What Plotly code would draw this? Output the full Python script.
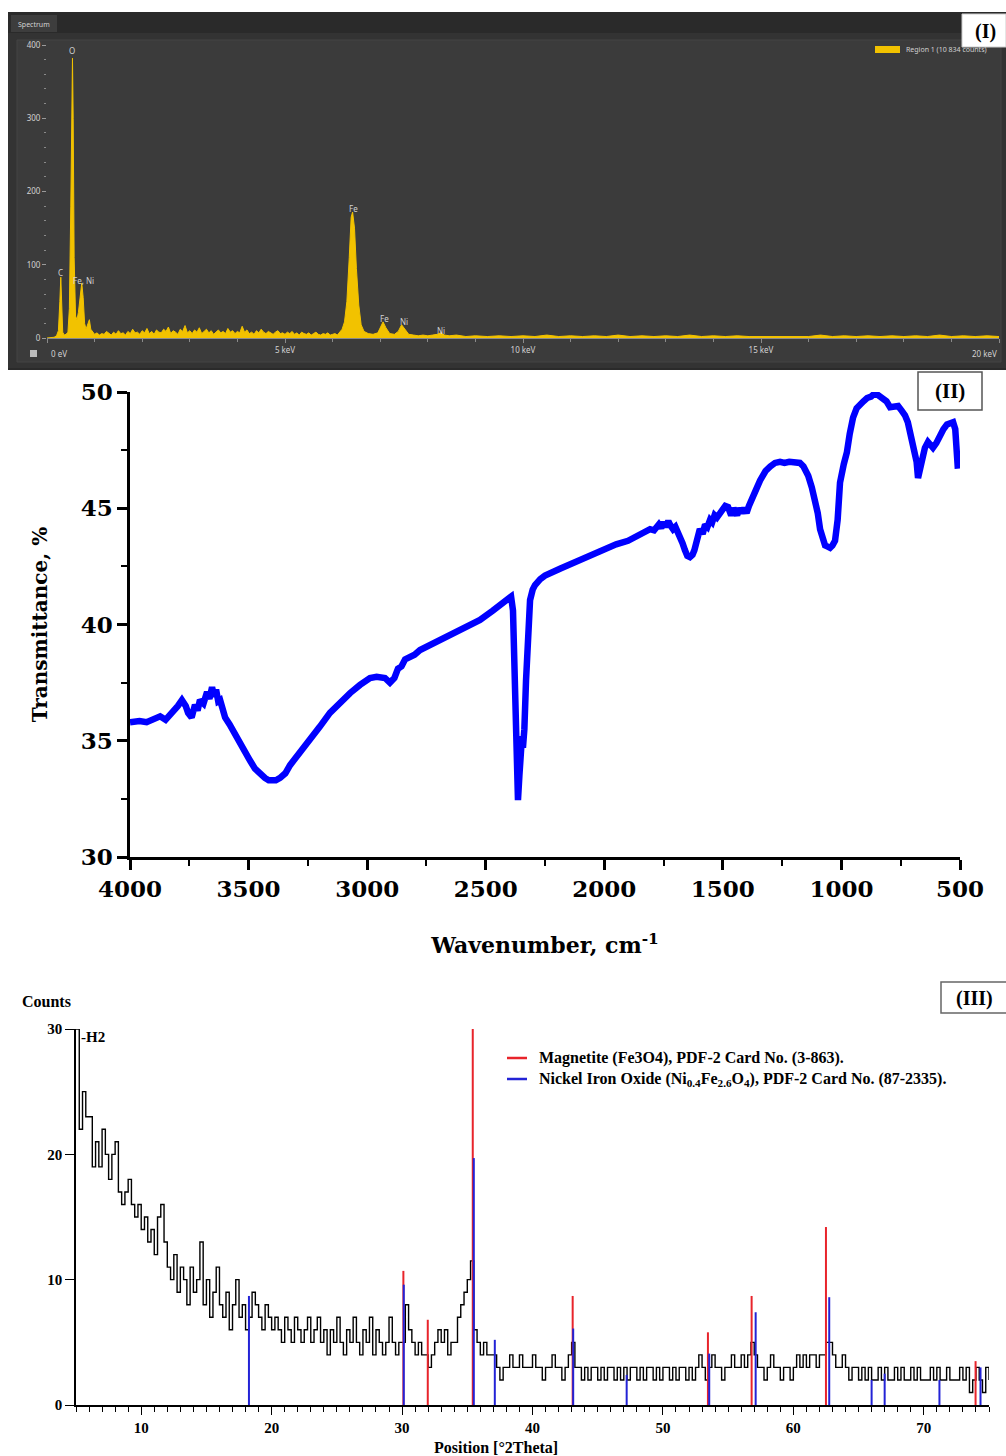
import plotly.graph_objects as go

W, H = 1006, 1456


def px(x):
    return x / W


def py(y):
    return 1 - y / H


# ---------------- Panel I : EDS spectrum ----------------
eds_energy_kev = [
    0.00, 0.10, 0.15, 0.20, 0.24, 0.27, 0.29, 0.31, 0.33, 0.36, 0.40, 0.44, 0.47, 0.50, 0.52, 0.535,
    0.55, 0.57, 0.60, 0.63, 0.66, 0.70, 0.73, 0.76, 0.79, 0.82, 0.86, 0.89, 0.92, 0.96, 1.00, 1.05,
    1.10, 1.15, 1.20, 1.25, 1.3, 1.35, 1.4, 1.45, 1.5, 1.55, 1.6, 1.65, 1.7, 1.75, 1.8, 1.85, 1.9,
    1.95, 2.0, 2.05, 2.1, 2.15, 2.2, 2.25, 2.3, 2.35, 2.4, 2.45, 2.5, 2.55, 2.6, 2.65, 2.7, 2.75,
    2.8, 2.85, 2.9, 2.95, 3.0, 3.05, 3.1, 3.15, 3.2, 3.25, 3.3, 3.35, 3.4, 3.45, 3.5, 3.55, 3.6,
    3.65, 3.7, 3.75, 3.8, 3.85, 3.9, 3.95, 4.0, 4.05, 4.1, 4.15, 4.2, 4.25, 4.3, 4.35, 4.4, 4.45,
    4.5, 4.55, 4.6, 4.65, 4.7, 4.75, 4.8, 4.85, 4.9, 4.95, 5.0, 5.05, 5.1, 5.15, 5.2, 5.25, 5.3,
    5.35, 5.4, 5.45, 5.5, 5.55, 5.6, 5.65, 5.7, 5.75, 5.8, 5.85, 5.9, 5.95, 6.0, 6.05, 6.1, 6.15,
    6.2, 6.25, 6.3, 6.35, 6.39, 6.42, 6.46, 6.5, 6.55, 6.6, 6.66, 6.75, 6.85, 6.95, 7.0, 7.06, 7.12,
    7.2, 7.3, 7.38, 7.45, 7.52, 7.6, 7.7, 7.8, 7.9, 8.0, 8.1, 8.2, 8.27, 8.35, 8.45, 8.6, 8.8, 9.0,
    9.25, 9.5, 9.75, 10.0, 10.25, 10.5, 10.75, 11.0, 11.25, 11.5, 11.75, 12.0, 12.25, 12.5, 12.75,
    13.0, 13.25, 13.5, 13.75, 14.0, 14.25, 14.5, 14.75, 15.0, 15.25, 15.5, 15.75, 16.0, 16.25, 16.5,
    16.75, 17.0, 17.25, 17.5, 17.75, 18.0, 18.25, 18.5, 18.75, 19.0, 19.25, 19.5, 19.75, 20.0,
]
eds_counts = [
    0, 0, 1, 3, 10, 50, 83, 45, 8, 4, 5, 8, 40, 180, 300, 382,
    300, 110, 30, 25, 35, 60, 75, 55, 20, 12, 18, 25, 12, 8, 5, 7,
    4, 6, 5, 9, 6, 4, 8, 5, 10, 6, 7, 4, 9, 6, 12, 7, 8,
    5, 10, 7, 13, 6, 9, 5, 11, 8, 7, 12, 9, 15, 6, 10, 8, 5,
    12, 9, 17, 7, 10, 6, 11, 8, 14, 6, 9, 12, 7, 10, 5, 8, 11,
    7, 9, 6, 13, 8, 10, 6, 9, 7, 16, 8, 11, 6, 8, 5, 10, 7,
    12, 8, 6, 9, 7, 5, 8, 10, 6, 7, 5, 8, 6, 9, 5, 7, 4,
    8, 6, 5, 7, 4, 6, 8, 5, 4, 6, 5, 7, 4, 5, 6, 4, 8,
    12, 22, 50, 110, 165, 172, 150, 95, 45, 18, 9, 6, 5, 7, 14, 22, 14,
    6, 5, 9, 18, 12, 5, 4, 3, 4, 3, 4, 5, 7, 4, 3, 4, 2, 3,
    2, 3, 2, 3, 2, 4, 2, 3, 2, 3, 2, 4, 2, 3, 2,
    3, 2, 4, 2, 3, 2, 3, 2, 2, 3, 2, 3, 2, 4, 2,
    3, 2, 3, 2, 3, 2, 3, 2, 4, 2, 3, 2, 3, 2,
]
eds_peak_labels = ["C", "O", "Fe, Ni", "Fe", "Fe", "Ni", "Ni"]
eds_peak_label_kev = [0.29, 0.53, 0.76, 6.43, 7.08, 7.50, 8.28]
eds_peak_label_counts = [89, 392, 78, 177, 27, 22, 10]
eds_x_tickvals = [0, 5, 10, 15, 20]
eds_x_ticktext = ["0 eV", "5 keV", "10 keV", "15 keV", "20 keV"]
eds_y_tickvals = [0, 100, 200, 300, 400]

# ---------------- Panel II : FTIR ----------------
ftir_wavenumber = [
    4000, 3960, 3930, 3900, 3873, 3850, 3831, 3810, 3798, 3781, 3765, 3755, 3740, 3726, 3715, 3705,
    3690, 3675, 3665, 3654, 3645, 3637, 3628, 3620, 3610, 3599, 3580, 3557, 3536, 3515, 3494, 3473,
    3452, 3431, 3415, 3401, 3385, 3367, 3345, 3325, 3290, 3241, 3200, 3157, 3115, 3072, 3030, 2988,
    2960, 2940, 2925, 2904, 2885, 2870, 2855, 2840, 2800, 2777, 2720, 2651, 2590, 2524, 2470, 2419,
    2400, 2393, 2385, 2375, 2368, 2364, 2358, 2351, 2347, 2343, 2337, 2330, 2322, 2313, 2302, 2292,
    2270, 2250, 2187, 2100, 2018, 1950, 1900, 1849, 1807, 1790, 1770, 1760, 1750, 1740, 1730, 1723,
    1710, 1700, 1690, 1681, 1670, 1660, 1650, 1639, 1628, 1620, 1610, 1597, 1585, 1575, 1565, 1554,
    1545, 1535, 1525, 1512, 1500, 1490, 1478, 1465, 1455, 1449, 1440, 1430, 1420, 1410, 1400, 1390,
    1375, 1360, 1343, 1320, 1300, 1280, 1259, 1240, 1220, 1200, 1175, 1160, 1150, 1140, 1125, 1111,
    1100, 1090, 1080, 1069, 1058, 1048, 1038, 1027, 1016, 1006, 990, 977, 965, 951, 936, 922, 907,
    892, 875, 858, 842, 825, 810, 795, 778, 761, 746, 732, 720, 711, 700, 690, 683, 677, 670, 660,
    648, 635, 625, 614, 600, 584, 570, 555, 542, 529, 520, 514, 509,
]
ftir_transmittance = [
    35.8, 35.85, 35.8, 35.95, 36.05, 35.9, 36.1, 36.3, 36.5, 36.75, 36.5, 36.2, 36.0, 36.55, 36.3, 36.75,
    36.6, 37.1, 36.8, 37.3, 36.9, 37.2, 36.7, 36.75, 36.4, 36.0, 35.7, 35.25, 34.9, 34.5, 34.15, 33.8,
    33.55, 33.4, 33.3, 33.27, 33.3, 33.4, 33.6, 33.95, 34.4, 35.0, 35.6, 36.2, 36.65, 37.05, 37.4, 37.7,
    37.75, 37.7, 37.7, 37.5, 37.7, 38.1, 38.2, 38.5, 38.7, 38.9, 39.2, 39.55, 39.85, 40.2, 40.6, 41.05,
    41.15, 41.2, 40.6, 37.5, 34.0, 32.45, 33.5, 34.95, 35.2, 34.7, 35.5, 37.6, 39.5, 41.05, 41.5, 41.7,
    41.95, 42.1, 42.4, 42.8, 43.2, 43.45, 43.6, 43.85, 44.1, 44.05, 44.3, 44.15, 44.4, 44.2, 44.45, 44.3,
    44.1, 44.2, 44.0, 43.85, 43.5, 43.2, 42.95, 42.9, 43.0, 43.2, 43.5, 44.1, 43.9, 44.3, 44.2, 44.5,
    44.4, 44.7, 44.6, 44.8, 45.0, 45.1, 45.05, 44.7, 45.0, 44.9, 44.7, 45.0, 44.8, 45.0, 44.8, 45.1,
    45.4, 45.8, 46.2, 46.6, 46.8, 46.95, 47.0, 46.95, 47.0, 46.95, 46.95, 46.8, 46.6, 46.4, 45.9, 45.35,
    44.8, 44.1, 43.7, 43.4, 43.35, 43.3, 43.4, 43.6, 44.5, 46.1, 46.9, 47.4, 48.2, 48.9, 49.3, 49.5, 49.6,
    49.74, 49.8, 49.96, 49.85, 49.74, 49.6, 49.35, 49.4, 49.4, 49.2, 49.0, 48.7, 48.3, 47.9, 47.5, 47.0,
    46.3, 46.7, 47.3, 47.6, 47.85, 47.7, 47.6, 47.8, 48.15, 48.4, 48.6, 48.65, 48.7, 48.4, 47.8, 46.7,
]

# ---------------- Panel III : XRD ----------------
xrd_start_2theta = 5.0
xrd_step_2theta = 0.25
xrd_counts = [
    30, 22, 25, 23, 23, 19, 21, 19, 22, 20, 18, 20, 21, 17, 16, 17,
    18, 16, 15, 16, 14, 15, 13, 14, 12, 15, 16, 13, 11, 10, 12, 9,
    11, 10, 8, 11, 9, 10, 13, 8, 10, 7, 9, 11, 8, 7, 9, 6,
    8, 10, 7, 8, 6, 7, 9, 8, 7, 6, 8, 7, 6, 7, 6, 5,
    7, 6, 5, 7, 6, 5, 6, 7, 5, 6, 7, 5, 6, 4, 6, 5,
    7, 5, 4, 6, 5, 7, 5, 4, 6, 5, 7, 4, 6, 5, 4, 5,
    7, 5, 4, 5, 5, 8, 6, 5, 4, 5, 4, 4, 3, 4, 5, 6,
    5, 6, 4, 5, 5, 7, 8, 9, 10, 11.5, 6, 5, 4, 5, 4, 4,
    4, 3, 2, 3, 3, 4, 3, 3, 4, 3, 3, 3, 4, 3, 3, 2,
    3, 3, 4, 3, 3, 2, 3, 4, 5, 3, 3, 2, 3, 2, 3, 3,
    2, 3, 2, 3, 3, 2, 3, 2, 3, 2, 3, 3, 2, 3, 2, 3,
    3, 2, 3, 2, 3, 3, 2, 3, 2, 3, 3, 2, 3, 2, 3, 4,
    3, 2, 3, 4, 3, 3, 2, 3, 3, 4, 3, 3, 4, 3, 4, 5,
    4, 3, 3, 2, 3, 4, 3, 3, 2, 3, 3, 2, 3, 4, 3, 4,
    3, 4, 4, 3, 4, 4, 5, 5, 4, 3, 3, 4, 3, 2, 3, 3,
    2, 3, 2, 3, 2, 2, 3, 2, 3, 2, 2, 3, 2, 3, 2, 2,
    3, 2, 3, 2, 2, 2, 3, 2, 3, 2, 2, 3, 2, 2, 2, 3,
    2, 3, 1, 2, 3, 2, 1, 3, 2,
]
magnetite_2theta = [30.1, 31.97, 35.42, 43.08, 53.45, 56.8, 62.5, 73.97]
magnetite_counts = [10.7, 6.8, 30.0, 8.7, 5.8, 8.7, 14.2, 3.5]
nife_2theta = [18.26, 30.13, 35.5, 37.11, 43.12, 47.22, 53.55, 57.11, 62.75, 66.0, 67.0, 71.2, 74.35]
nife_counts = [8.7, 9.6, 19.7, 5.2, 6.1, 2.4, 4.1, 7.4, 8.6, 2.0, 2.5, 2.0, 3.0]
xrd_tickvals = [10, 20, 30, 40, 50, 60, 70]
xrd_y_tickvals = [0, 10, 20, 30]

SERIF_B = dict(family="Liberation Serif", weight="bold", color="black")
DJ_B = dict(family="DejaVu Serif", weight="bold", color="black")
EDS_TXT = dict(family="Noto Sans", color="#d2d2d2")

fig = go.Figure()

fig.add_trace(go.Scatter(
    x=eds_energy_kev, y=eds_counts, mode="lines", fill="tozeroy",
    line=dict(color="#f2c200", width=1), fillcolor="#f2c200",
    xaxis="x", yaxis="y", showlegend=False, hoverinfo="skip",
))

fig.add_trace(go.Scatter(
    x=ftir_wavenumber, y=ftir_transmittance, mode="lines",
    line=dict(color="#0000ff", width=6.5), cliponaxis=False,
    xaxis="x2", yaxis="y2", showlegend=False, hoverinfo="skip",
))

xrd_2theta = [xrd_start_2theta + i * xrd_step_2theta for i in range(len(xrd_counts))]
fig.add_trace(go.Scatter(
    x=xrd_2theta, y=xrd_counts, mode="lines", line=dict(color="black", width=1.4, shape="hv"),
    xaxis="x3", yaxis="y3", showlegend=False, hoverinfo="skip",
))


def sticks(pos, val):
    xs, ys = [], []
    for p, v in zip(pos, val):
        xs += [p, p, None]
        ys += [0, v, None]
    return xs, ys


mx, my = sticks(magnetite_2theta, magnetite_counts)
fig.add_trace(go.Scatter(x=mx, y=my, mode="lines", line=dict(color="#e8242b", width=2),
                         xaxis="x3", yaxis="y3", showlegend=False, hoverinfo="skip"))
nx, ny = sticks(nife_2theta, nife_counts)
fig.add_trace(go.Scatter(x=nx, y=ny, mode="lines", line=dict(color="#2323d6", width=2),
                         xaxis="x3", yaxis="y3", showlegend=False, hoverinfo="skip"))

shapes = []
annotations = []

shapes += [
    dict(type="rect", xref="paper", yref="paper", x0=px(8), x1=px(1006), y0=py(370), y1=py(12),
         fillcolor="#2a2a2a", line=dict(width=0), layer="below"),
    dict(type="rect", xref="paper", yref="paper", x0=px(11), x1=px(57), y0=py(32), y1=py(15),
         fillcolor="#3d3d3d", line=dict(width=0), layer="below"),
    dict(type="rect", xref="paper", yref="paper", x0=px(8), x1=px(1006), y0=py(368), y1=py(33),
         fillcolor="#333333", line=dict(width=0), layer="below"),
    dict(type="rect", xref="paper", yref="paper", x0=px(17), x1=px(1001), y0=py(362), y1=py(40),
         fillcolor="#3b3b3b", line=dict(color="#444444", width=1), layer="below"),
    dict(type="rect", xref="paper", yref="paper", x0=px(30), x1=px(37), y0=py(357), y1=py(350),
         fillcolor="#bdbdbd", line=dict(width=0), layer="below"),
    dict(type="rect", xref="paper", yref="paper", x0=px(875), x1=px(900), y0=py(53), y1=py(46),
         fillcolor="#f2c200", line=dict(width=0)),
    dict(type="rect", xref="paper", yref="paper", x0=px(962), x1=px(1006), y0=py(47), y1=py(14),
         fillcolor="white", line=dict(color="#cccccc", width=1)),
]
annotations += [
    dict(text="Spectrum", xref="paper", yref="paper", x=px(16), y=py(24), xanchor="left",
         yanchor="middle", showarrow=False, font=dict(size=7, **EDS_TXT)),
    dict(text="Region 1 (10 834 counts)", xref="paper", yref="paper", x=px(904), y=py(50),
         xanchor="left", yanchor="middle", showarrow=False, font=dict(size=7, **EDS_TXT)),
    dict(text="(I)", xref="paper", yref="paper", x=px(985), y=py(31), xanchor="center",
         yanchor="middle", showarrow=False, font=dict(size=20, **SERIF_B)),
    # end labels of the energy axis (kept inside the page)
    dict(text=eds_x_ticktext[0], x=eds_x_tickvals[0], xref="x", y=py(353), yref="paper",
         xanchor="left", yanchor="middle", xshift=2, showarrow=False, font=dict(size=8, **EDS_TXT)),
    dict(text=eds_x_ticktext[-1], x=eds_x_tickvals[-1], xref="x", y=py(353), yref="paper",
         xanchor="right", yanchor="middle", showarrow=False, font=dict(size=8, **EDS_TXT)),
]
for lab, ex, ey in zip(eds_peak_labels, eds_peak_label_kev, eds_peak_label_counts):
    annotations.append(dict(text=lab, x=ex, y=ey, xref="x", yref="y", showarrow=False,
                            xanchor="center", yanchor="middle", font=dict(size=8, **EDS_TXT)))

shapes.append(dict(type="rect", xref="paper", yref="paper", x0=px(918), x1=px(982), y0=py(410),
                   y1=py(372), fillcolor="white", line=dict(color="#555555", width=1.5)))
annotations.append(dict(text="(II)", xref="paper", yref="paper", x=px(950), y=py(391),
                        xanchor="center", yanchor="middle", showarrow=False,
                        font=dict(size=21, **SERIF_B)))

shapes += [
    dict(type="rect", xref="paper", yref="paper", x0=px(941), x1=px(1010), y0=py(1013), y1=py(982),
         fillcolor="white", line=dict(color="#666666", width=1.5)),
    dict(type="line", xref="paper", yref="paper", x0=px(507), x1=px(527), y0=py(1058), y1=py(1058),
         line=dict(color="#e8242b", width=2.5)),
    dict(type="line", xref="paper", yref="paper", x0=px(507), x1=px(527), y0=py(1079), y1=py(1079),
         line=dict(color="#2323d6", width=2.5)),
]
annotations += [
    dict(text="(III)", xref="paper", yref="paper", x=px(974), y=py(998), xanchor="center",
         yanchor="middle", showarrow=False, font=dict(size=20, **SERIF_B)),
    dict(text="Magnetite (Fe3O4), PDF-2 Card No. (3-863).", xref="paper", yref="paper",
         x=px(537), y=py(1058), xanchor="left", yanchor="middle", showarrow=False,
         font=dict(size=16, **SERIF_B)),
    dict(text="Nickel Iron Oxide (Ni<sub>0.4</sub>Fe<sub>2.6</sub>O<sub>4</sub>), PDF-2 Card No. (87-2335).",
         xref="paper", yref="paper", x=px(537), y=py(1079), xanchor="left", yanchor="middle",
         showarrow=False, font=dict(size=16, **SERIF_B)),
    dict(text="Counts", xref="paper", yref="paper", x=px(20), y=py(1001), xanchor="left",
         yanchor="middle", showarrow=False, font=dict(size=16, **SERIF_B)),
    dict(text="-H2", xref="paper", yref="paper", x=px(79), y=py(1037), xanchor="left",
         yanchor="middle", showarrow=False, font=dict(size=15, **SERIF_B)),
    dict(text="Position [°2Theta]", xref="paper", yref="paper", x=px(496), y=py(1447),
         xanchor="center", yanchor="middle", showarrow=False, font=dict(size=16, **SERIF_B)),
]

fig.update_layout(
    width=W, height=H, margin=dict(l=0, r=0, t=0, b=0, autoexpand=False),
    paper_bgcolor="white", plot_bgcolor="rgba(0,0,0,0)",
    shapes=shapes, annotations=annotations, showlegend=False,
    xaxis=dict(domain=[px(47), px(999)], range=[0, 20], anchor="y", automargin=False,
               showline=True, linecolor="#8a8a8a", linewidth=1, showgrid=False, zeroline=False,
               ticks="outside", ticklen=4, tickcolor="#8a8a8a",
               tickvals=eds_x_tickvals, ticktext=[""] + eds_x_ticktext[1:-1] + [""],
               tickfont=dict(size=8, **EDS_TXT),
               minor=dict(dtick=1, tick0=0, ticks="outside", ticklen=3, tickcolor="#8a8a8a")),
    yaxis=dict(domain=[py(338), py(45)], range=[0, 400], anchor="x", automargin=False,
               showline=False, showgrid=False, zeroline=False,
               ticks="outside", ticklen=4, tickcolor="#9a9a9a", tickvals=eds_y_tickvals,
               tickfont=dict(size=8, **EDS_TXT),
               minor=dict(dtick=20, tick0=0, ticks="outside", ticklen=2, tickcolor="#8a8a8a")),
    xaxis2=dict(domain=[px(130), px(960)], range=[4000, 500], anchor="y2", automargin=False,
                showline=True, linecolor="black", linewidth=2.5, showgrid=False, zeroline=False,
                ticks="outside", ticklen=10, tickwidth=2.5, tickcolor="black",
                tick0=0, dtick=500, tickfont=dict(size=23, **DJ_B),
                minor=dict(dtick=250, tick0=0, ticks="outside", ticklen=6, tickwidth=2,
                           tickcolor="black"),
                title=dict(text="Wavenumber, cm<sup>-1</sup>", font=dict(size=22, **DJ_B),
                           standoff=37)),
    yaxis2=dict(domain=[py(857), py(392)], range=[30, 50], anchor="x2", automargin=False,
                showline=True, linecolor="black", linewidth=2.5, showgrid=False, zeroline=False,
                ticks="outside", ticklen=10, tickwidth=2.5, tickcolor="black",
                tick0=0, dtick=5, tickfont=dict(size=23, **DJ_B),
                minor=dict(dtick=2.5, tick0=0, ticks="outside", ticklen=6, tickwidth=2,
                           tickcolor="black"),
                title=dict(text="Transmittance, %", font=dict(size=20, **DJ_B), standoff=28)),
    xaxis3=dict(domain=[px(76), px(989)], range=[5, 75], anchor="y3", automargin=False,
                showline=True, linecolor="black", linewidth=1.5, showgrid=False, zeroline=False,
                ticks="outside", ticklen=8, tickwidth=1.2, tickcolor="black",
                tickvals=xrd_tickvals, tickfont=dict(size=15, **SERIF_B),
                minor=dict(dtick=1, tick0=0, ticks="outside", ticklen=5, tickwidth=1,
                           tickcolor="black")),
    yaxis3=dict(domain=[py(1405), py(1029)], range=[0, 30], anchor="x3", automargin=False,
                showline=True, linecolor="black", linewidth=1.5, showgrid=False, zeroline=False,
                ticks="outside", ticklen=9, tickwidth=1.2, tickcolor="black",
                tickvals=xrd_y_tickvals, tickfont=dict(size=15, **SERIF_B)),
)

fig.write_html("out.html", config={"displayModeBar": False},
               post_script="document.body.style.margin='0px';")
